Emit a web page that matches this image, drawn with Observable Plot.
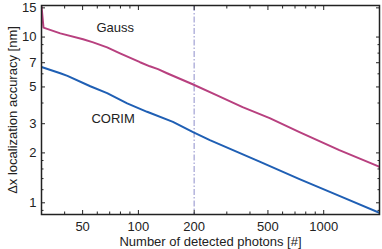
<!DOCTYPE html>
<html>
<head>
<meta charset="utf-8">
<script src="https://cdn.jsdelivr.net/npm/d3@7"></script>
<script src="https://cdn.jsdelivr.net/npm/@observablehq/plot@0.6"></script>
<style>
  html, body { margin: 0; padding: 0; background: #fff; }
  #chart svg { display: block; }
</style>
</head>
<body>
<div id="chart"></div>
<script>
// Gauss series (photons, localization accuracy nm)
const gaussN   = [30, 30.75, 37.9, 50.3, 57.0, 67.8, 79.6, 102, 115.3, 127.6, 142.7, 196.2, 264, 365, 511, 740, 1214, 1946, 2000];
const gaussVal = [15.3, 11.4, 10.52, 9.69, 9.29, 8.67, 7.98, 7.05, 6.66, 6.40, 6.05, 5.19, 4.46, 3.78, 3.24, 2.67, 2.08, 1.67, 1.65];
// CORIM series
const corimN   = [30, 37.9, 41.4, 55.0, 67.8, 87.0, 111.4, 153.6, 196, 243, 451, 740, 1214, 2000];
const corimVal = [6.60, 6.05, 5.83, 5.05, 4.59, 3.98, 3.54, 3.08, 2.68, 2.39, 1.77, 1.39, 1.10, 0.87];
// reference line
const refN = [200];
// ticks
const xMajor = [50, 100, 200, 500, 1000];
const xMinor = [40, 60, 70, 80, 90, 300, 400, 600, 700, 800, 900];
const yMajor = [1, 2, 3, 5, 7, 10, 15];
const yMinor = [0.9, 1.2, 1.4, 1.6, 1.8, 4, 6, 8, 9];
// texts
const xTitle = "Number of detected photons [#]";
const yTitle = "Δx localization accuracy [nm]";
const labels = [
  {name: "Gauss", n: 75, v: 11.3},
  {name: "CORIM", n: 73, v: 3.2}
];

const gauss = gaussN.map((n, i) => ({n, v: gaussVal[i]}));
const corim = corimN.map((n, i) => ({n, v: corimVal[i]}));

const ink = "#222";
const chart = Plot.plot({
  width: 382,
  height: 249,
  marginLeft: 41,
  marginRight: 3,
  marginTop: 5,
  marginBottom: 35,
  style: {fontFamily: "'Liberation Sans', Arial, sans-serif", fontSize: "13px", color: ink, background: "#fff"},
  x: {type: "log", domain: [30, 2000]},
  y: {type: "log", domain: [0.85, 15.5]},
  marks: [
    Plot.ruleX(refN, {stroke: "#b4b4dc", strokeWidth: 1.5, strokeDasharray: "6,2,1.5,2"}),
    Plot.line(gauss, {x: "n", y: "v", stroke: "#b8407f", strokeWidth: 2, clip: true}),
    Plot.line(corim, {x: "n", y: "v", stroke: "#1f5fb4", strokeWidth: 2, clip: true}),
    Plot.text(labels, {x: "n", y: "v", text: "name", fontSize: 13, fill: ink}),
    // tick marks (inward, mirrored)
    Plot.axisX(xMajor, {anchor: "bottom", tickSize: -4, text: null, label: null}),
    Plot.axisX(xMinor, {anchor: "bottom", tickSize: -2.5, text: null, label: null}),
    Plot.axisX(xMajor, {anchor: "top", tickSize: -4, text: null, label: null}),
    Plot.axisX(xMinor, {anchor: "top", tickSize: -2.5, text: null, label: null}),
    Plot.axisY(yMajor, {anchor: "left", tickSize: -4, text: null, label: null}),
    Plot.axisY(yMinor, {anchor: "left", tickSize: -2.5, text: null, label: null}),
    Plot.axisY(yMajor, {anchor: "right", tickSize: -4, text: null, label: null}),
    Plot.axisY(yMinor, {anchor: "right", tickSize: -2.5, text: null, label: null}),
    // tick labels
    Plot.text(xMajor, {x: d => d, frameAnchor: "bottom", dy: 12, lineAnchor: "middle", text: d => String(d), fontSize: 13, fill: ink}),
    Plot.text(yMajor, {y: d => d, frameAnchor: "left", dx: -5, textAnchor: "end", lineAnchor: "middle", text: d => String(d), fontSize: 13, fill: ink}),
    // titles
    Plot.text([xTitle], {frameAnchor: "bottom", dy: 27, lineAnchor: "middle", textAnchor: "middle", fontSize: 13, fill: ink}),
    Plot.text([yTitle], {frameAnchor: "left", dx: -29, rotate: -90, textAnchor: "middle", lineAnchor: "middle", fontSize: 13, fill: ink}),
    Plot.frame({stroke: ink, strokeWidth: 1.5})
  ]
});
document.getElementById("chart").appendChild(chart);
</script>
</body>
</html>
